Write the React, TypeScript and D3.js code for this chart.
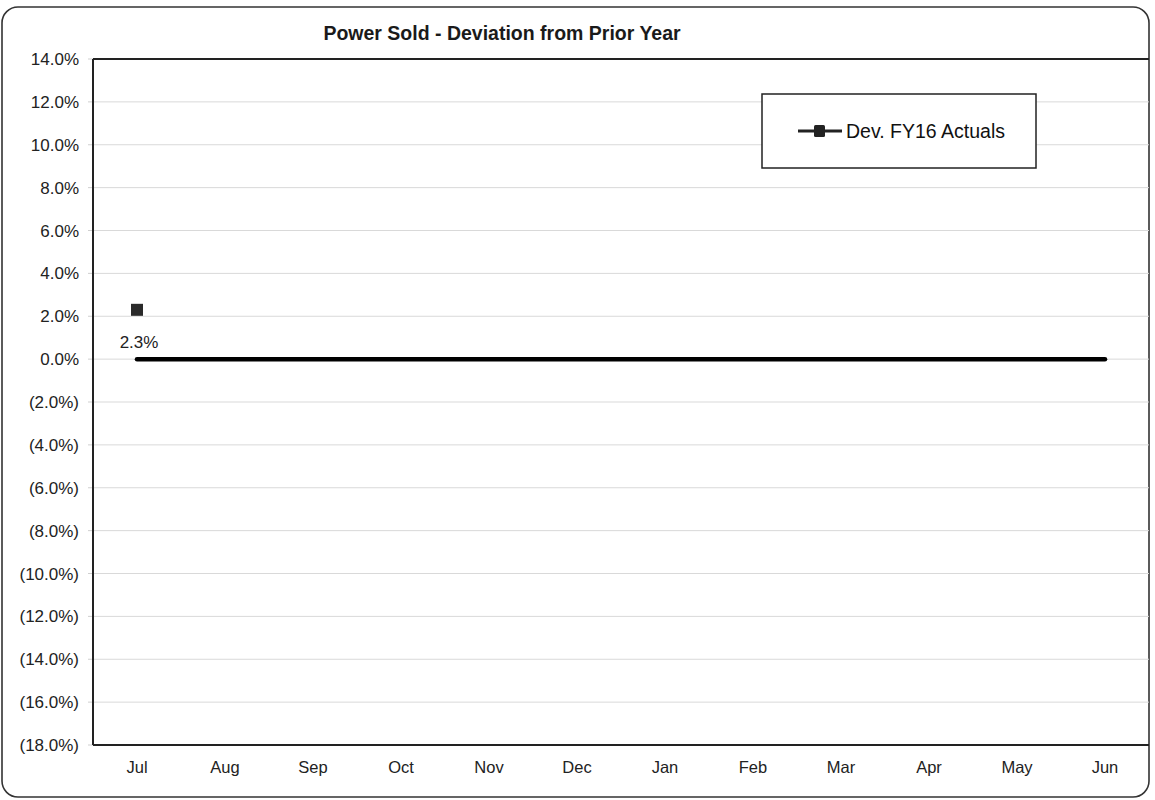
import React from "react";
import * as d3 from "d3";

const months = ["Jul", "Aug", "Sep", "Oct", "Nov", "Dec", "Jan", "Feb", "Mar", "Apr", "May", "Jun"];
const actualsFY16: (number | null)[] = [2.3, null, null, null, null, null, null, null, null, null, null, null];
const baseline: number[] = [0, 0, 0, 0, 0, 0, 0, 0, 0, 0, 0, 0];
const yTickValues: number[] = [14, 12, 10, 8, 6, 4, 2, 0, -2, -4, -6, -8, -10, -12, -14, -16, -18];
const title = "Power Sold - Deviation from Prior Year";
const legendLabel = "Dev. FY16 Actuals";

const W = 1155;
const H = 800;
const plot = { left: 93, top: 59, right: 1149, bottom: 745 };
const font = "'Liberation Sans', Arial, sans-serif";

const fmt = (v: number) => {
  const s = Math.abs(v).toFixed(1) + "%";
  return v < 0 ? `(${s})` : s;
};

export default function App() {
  const x = d3.scaleBand<string>().domain(months).range([plot.left, plot.right]);
  const y = d3.scaleLinear().domain([-18, 14]).range([plot.bottom, plot.top]);
  const cx = (m: string) => (x(m) ?? 0) + x.bandwidth() / 2;

  const baseLine = d3
    .line<number>()
    .x((_, i) => cx(months[i]))
    .y((d) => y(d))(baseline) as string;

  const actualPts = actualsFY16
    .map((v, i) => ({ v, m: months[i] }))
    .filter((d) => d.v !== null) as { v: number; m: string }[];

  const actualLine = d3
    .line<{ v: number; m: string }>()
    .x((d) => cx(d.m))
    .y((d) => y(d.v))(actualPts) as string;

  const ms = 12;

  return (
    <svg
      width={W}
      height={H}
      style={{ position: "absolute", left: 0, top: 0, display: "block", background: "#fff" }}
      fontFamily={font}
    >
      {/* outer frame */}
      <rect x={2} y={7} width={1147} height={790} rx={16} ry={16} fill="#fff" stroke="#333" strokeWidth={1.6} />

      {/* title */}
      <text x={502} y={40} textAnchor="middle" fontSize={19.5} fontWeight="bold" fill="#1a1a1a">
        {title}
      </text>

      {/* gridlines */}
      {yTickValues.map((t) => (
        <line key={"g" + t} x1={plot.left} x2={plot.right} y1={y(t)} y2={y(t)} stroke="#d9d9d9" strokeWidth={1} />
      ))}
      {/* small tick stubs left of the axis */}
      {yTickValues.map((t) => (
        <line key={"tk" + t} x1={plot.left - 5} x2={plot.left} y1={y(t)} y2={y(t)} stroke="#cfcfcf" strokeWidth={1} />
      ))}

      {/* y tick labels */}
      {yTickValues.map((t) => (
        <text key={"yl" + t} x={79} y={y(t) + 6} textAnchor="end" fontSize={17} fill="#222">
          {fmt(t)}
        </text>
      ))}

      {/* x tick labels */}
      {months.map((m) => (
        <text key={"xl" + m} x={cx(m)} y={773} textAnchor="middle" fontSize={16.5} fill="#222">
          {m}
        </text>
      ))}

      {/* plot frame */}
      <line x1={plot.left} x2={plot.right} y1={plot.top} y2={plot.top} stroke="#222" strokeWidth={2} />
      <line x1={plot.left} x2={plot.right} y1={plot.bottom} y2={plot.bottom} stroke="#222" strokeWidth={2} />
      <line x1={plot.left} x2={plot.left} y1={plot.top} y2={plot.bottom} stroke="#222" strokeWidth={2} />

      {/* baseline series */}
      <path d={baseLine} fill="none" stroke="#000" strokeWidth={4.5} strokeLinecap="round" />

      {/* actuals */}
      <path d={actualLine} fill="none" stroke="#222" strokeWidth={3} />
      {actualPts.map((d) => (
        <g key={"p" + d.m}>
          <rect x={cx(d.m) - ms / 2} y={y(d.v) - ms / 2} width={ms} height={ms} fill="#2a2a2a" />
          <text x={cx(d.m) + 2} y={y(d.v) + 38} textAnchor="middle" fontSize={17} fill="#222">
            {fmt(d.v)}
          </text>
        </g>
      ))}

      {/* legend */}
      <rect x={762} y={94} width={274} height={74} fill="#fff" stroke="#222" strokeWidth={1.5} />
      <line x1={798} x2={842} y1={131} y2={131} stroke="#222" strokeWidth={3} />
      <rect x={814} y={125} width={11} height={12} rx={1.5} fill="#222" />
      <text x={846} y={137.5} fontSize={19.5} fill="#111">
        {legendLabel}
      </text>
    </svg>
  );
}
